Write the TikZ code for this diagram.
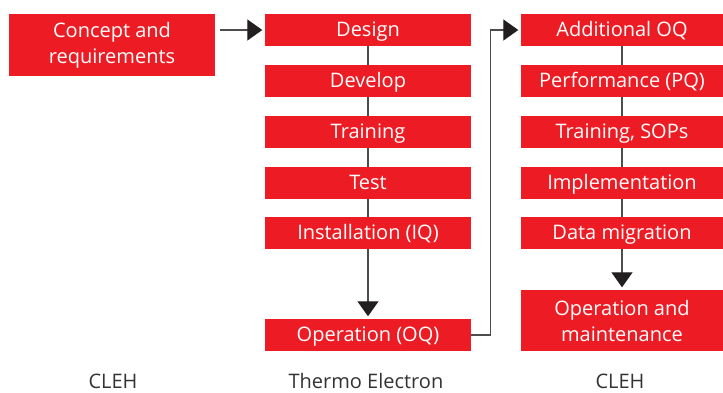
\documentclass[tikz,border=0pt]{standalone}
\usepackage{fontspec}
\setmainfont{Open Sans}
\usetikzlibrary{arrows.meta}
\definecolor{boxred}{HTML}{ED1C24}
\definecolor{linegray}{HTML}{4D4D4D}
\definecolor{tipblack}{HTML}{231F20}
\definecolor{labelgray}{HTML}{333333}
\begin{document}
\begin{tikzpicture}[x=1pt,y=-1pt,
  stage/.style={fill=boxred, text=white, inner sep=0pt, align=center,
    font=\fontsize{20}{26}\selectfont},
  oneline/.style={text height=14pt, text depth=2pt},
  stageL/.style={stage, oneline, minimum width=206pt, minimum height=32pt},
  stageR/.style={stage, oneline, minimum width=202pt, minimum height=32pt},
  link/.style={draw=linegray, line width=1.3pt},
  flow/.style={link, shorten >=2.5pt,
    -{Triangle[length=15pt,width=21pt,color=tipblack]}},
  caption/.style={text=labelgray, anchor=base, inner sep=0pt,
    font=\fontsize{20}{24}\selectfont}]

% page frame
\fill[white] (0,0) rectangle (723,392);

% customer start
\node[stage, minimum width=206pt, minimum height=62pt] (concept) at (112,45)
  {Concept and\\requirements};

% supplier column
\node[stageL] (design)  at (368,30)  {Design};
\node[stageL] (develop) at (368,81)  {Develop};
\node[stageL] (train)   at (368,132) {Training};
\node[stageL] (test)    at (368,183) {Test};
\node[stageL] (iq)      at (368,233) {Installation (IQ)};
\node[stageL] (oq)      at (368,335) {Operation (OQ)};

% customer column
\node[stageR] (aoq)     at (622,30)  {Additional OQ};
\node[stageR] (pq)      at (622,81)  {Performance (PQ)};
\node[stageR] (sops)    at (622,132) {Training, SOPs};
\node[stageR] (impl)    at (622,183) {Implementation};
\node[stageR] (migr)    at (622,233) {Data migration};
\node[stage, minimum width=202pt, minimum height=61pt] (opm) at (622,320.5)
  {Operation and\\maintenance};

% captions
\node[caption] (capA) at (113,388) {CLEH};
\node[caption] (capB) at (366,388) {Thermo Electron};
\node[caption] (capC) at (620,388) {CLEH};

% connectors
\draw[flow, shorten <=5pt] (concept.east |- design.west) -- (design.west);
\draw[link] (design) -- (develop);
\draw[link] (develop) -- (train);
\draw[link] (train) -- (test);
\draw[link] (test) -- (iq);
\draw[flow] (iq) -- (oq);
\draw[flow] (oq.east) -- ++(19,0) |- (aoq.west);
\draw[link] (aoq) -- (pq);
\draw[link] (pq) -- (sops);
\draw[link] (sops) -- (impl);
\draw[link] (impl) -- (migr);
\draw[flow] (migr) -- (opm);
\end{tikzpicture}
\end{document}
